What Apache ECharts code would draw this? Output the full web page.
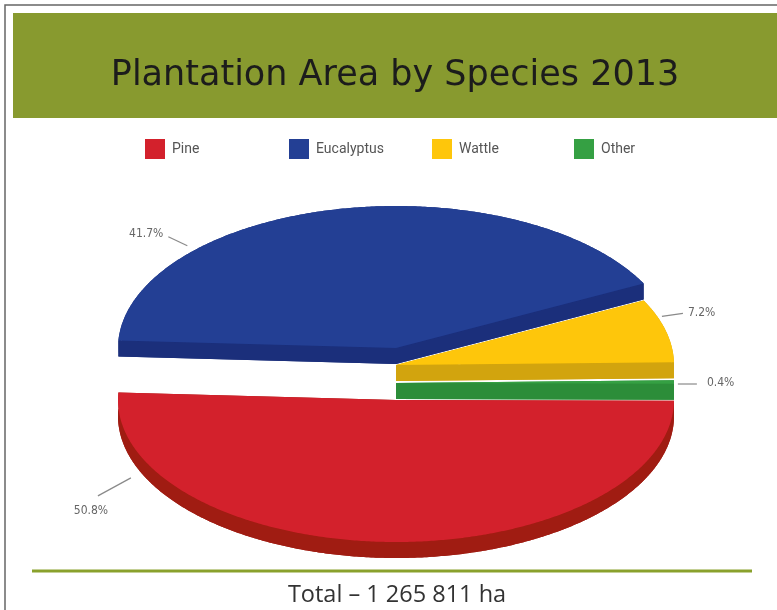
<!DOCTYPE html>
<html>
<head>
<meta charset="utf-8">
<script src="https://cdn.jsdelivr.net/npm/echarts@6/dist/echarts.min.js"></script>
<style>
html,body{margin:0;padding:0;background:#fff;}
#chart{width:777px;height:610px;}
</style>
</head>
<body>
<div id="chart"></div>
<script>
// ---- data ----
const categories = ['Pine', 'Eucalyptus', 'Wattle', 'Other'];
const shares = [50.8, 41.7, 7.2, 0.4];
const titleText = 'Plantation Area by Species 2013';
const totalText = 'Total \u2013 1 265 811 ha';

// ---- style ----
const topColors = ['#d3212c', '#233f94', '#fec60b', '#35a043'];
const sideColors = ['#a01c12', '#1b2f7b', '#d2a40e', '#2c8d39'];
const geo = { cx: 396, cy: 400, rx: 278, ry: 142, depth: 16, startAngle: 0.3 };
const lift = [0, 52, 35, 17];
// label layout: angle on ellipse (deg), radius factor, leader vector, text offset, align
const labelLayout = [
  { ang: 150.1, r: 1.10, dx: -33, dy: 18, tx: -7, ty: 15, align: 'center' },
  { ang: 223.8, r: 1.04, dx: -19, dy: -9, tx: -5, ty: -3, align: 'right' },
  { ang: 340.3, r: 1.016, dx: 21, dy: -3, tx: 5, ty: 0, align: 'left' },
  { ang: 0.4, r: 1.014, dx: 19, dy: 0, tx: 10, ty: -1, align: 'left' }
];
const drawOrder = [1, 2, 3, 0];

const total = shares.reduce((a, b) => a + b, 0);
const spans = shares.map(v => v / total * 360);
const starts = [];
{ let a = geo.startAngle; spans.forEach((s, i) => { starts[i] = a; a += s; }); }

function pt(cx, cy, deg, r) {
  const t = deg * Math.PI / 180;
  return [cx + geo.rx * r * Math.cos(t), cy + geo.ry * r * Math.sin(t)];
}

function makeRender(idx) {
  return function (params, api) {
    const val = api.value(0);
    const span = val / total * 360;
    const a0 = starts[idx];
    const cx = geo.cx, cy = geo.cy - lift[idx], d = geo.depth;
    const arc = [];
    const n = Math.max(2, Math.ceil(span / 0.5));
    for (let k = 0; k <= n; k++) arc.push(pt(cx, cy, a0 + span * k / n, 1));
    const top = [[cx, cy]].concat(arc);
    const bottom = top.map(p => [p[0], p[1] + d]);
    const wall = arc.concat(arc.slice().reverse().map(p => [p[0], p[1] + d]));
    const p0 = arc[0], p1 = arc[arc.length - 1];
    const rad0 = [[cx, cy], p0, [p0[0], p0[1] + d], [cx, cy + d]];
    const rad1 = [[cx, cy], p1, [p1[0], p1[1] + d], [cx, cy + d]];
    const side = sideColors[idx];
    const children = [
      { type: 'polygon', shape: { points: bottom }, style: { fill: side } },
      { type: 'polygon', shape: { points: wall }, style: { fill: side } },
      { type: 'polygon', shape: { points: rad0 }, style: { fill: side } },
      { type: 'polygon', shape: { points: rad1 }, style: { fill: side } },
      { type: 'polygon', shape: { points: top }, style: { fill: topColors[idx] } }
    ];
    const L = labelLayout[idx];
    const s = pt(cx, cy, L.ang, L.r);
    const e = [s[0] + L.dx, s[1] + L.dy];
    children.push({ type: 'line', shape: { x1: s[0], y1: s[1], x2: e[0], y2: e[1] },
      style: { stroke: '#8a8a8a', lineWidth: 1.2 } });
    children.push({ type: 'text', x: e[0] + L.tx, y: e[1] + L.ty,
      style: { text: val.toFixed(1) + '%', fill: '#666', fontSize: 12,
        fontFamily: 'DejaVu Sans Condensed, Roboto, sans-serif',
        align: L.align, verticalAlign: 'middle' } });
    return { type: 'group', children: children };
  };
}

const legendLeft = [145, 289, 432, 574];
const legends = categories.map((c, i) => ({
  data: [c], left: legendLeft[i], top: 139, icon: 'rect', itemWidth: 20, itemHeight: 20,
  itemGap: 0, padding: 0, selectedMode: false,
  textStyle: { color: '#555', fontSize: 14, fontFamily: 'Roboto, sans-serif', padding: [0, 0, 0, 2] }
}));

const series = drawOrder.map((i, k) => ({
  type: 'custom', name: categories[i], coordinateSystem: 'none', silent: true,
  z: 2 + k, itemStyle: { color: topColors[i] },
  data: [[shares[i]]], renderItem: makeRender(i), animation: false
}));

const chart = echarts.init(document.getElementById('chart'), null, { renderer: 'canvas' });
chart.setOption({
  animation: false,
  backgroundColor: '#fff',
  legend: legends,
  graphic: [
    { type: 'rect', shape: { x: 5, y: 5, width: 800, height: 700 }, style: { fill: 'none', stroke: '#666', lineWidth: 1.5 }, z: 0 },
    { type: 'rect', shape: { x: 13, y: 13, width: 780, height: 105 }, style: { fill: '#889a2f' }, z: 0 },
    { type: 'text', x: 395, y: 76, style: { text: titleText, fill: '#1c1c1c', fontSize: 35,
      fontFamily: 'DejaVu Sans, sans-serif', align: 'center', verticalAlign: 'middle' }, z: 1 },
    { type: 'line', shape: { x1: 32, y1: 571, x2: 752, y2: 571 }, style: { stroke: '#8aa12c', lineWidth: 3 }, z: 1 },
    { type: 'text', x: 397, y: 595, style: { text: totalText, fill: '#333', fontSize: 23.5,
      fontFamily: 'Open Sans, sans-serif', align: 'center', verticalAlign: 'middle' }, z: 1 }
  ],
  series: series
});
</script>
</body>
</html>
